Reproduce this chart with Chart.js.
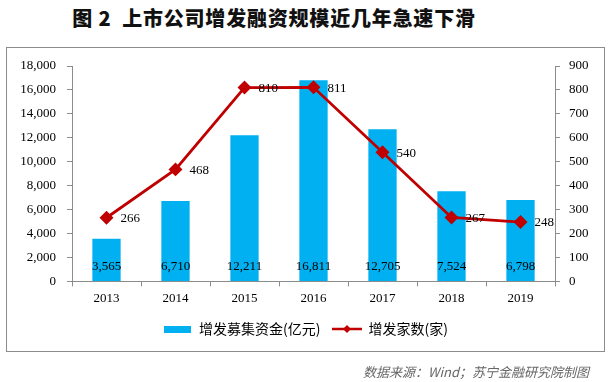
<!DOCTYPE html>
<html><head><meta charset="utf-8">
<script src="https://cdn.jsdelivr.net/npm/chart.js@4.4.1/dist/chart.umd.min.js"></script>
<style>
html,body{margin:0;padding:0;background:#fff;}
#wrap{position:relative;width:611px;height:382px;overflow:hidden;}
#title{position:absolute;left:0;width:548px;top:3px;text-align:center;font-family:"Noto Sans CJK SC";font-weight:900;font-size:20px;letter-spacing:0.8px;color:#111;white-space:nowrap;}
#box{position:absolute;left:6px;top:47px;width:597px;height:303px;border:1px solid #8c8c8c;}
#src{position:absolute;left:363px;top:362px;font-family:"Noto Sans CJK SC";font-style:italic;font-size:13px;color:#666;white-space:nowrap;}
canvas{position:absolute;left:0;top:0;}
</style></head>
<body><div id="wrap">
<div id="title">图 2&nbsp; 上市公司增发融资规模近几年急速下滑</div>
<div id="box"></div>
<canvas id="c" width="611" height="382"></canvas>
<div id="src">数据来源：Wind；苏宁金融研究院制图</div>
</div>
<script>
const categories = ['2013','2014','2015','2016','2017','2018','2019'];
const fundsRaised = [3565, 6710, 12211, 16811, 12705, 7524, 6798];
const companyCount = [266, 468, 810, 811, 540, 267, 248];
const leftTicks = [0,2000,4000,6000,8000,10000,12000,14000,16000,18000];
const rightTicks = [0,100,200,300,400,500,600,700,800,900];

const BLUE = '#00B0F0', RED = '#C00000', AXIS = '#8c8c8c';

function barIcon(){const c=document.createElement('canvas');c.width=27;c.height=7;const x=c.getContext('2d');x.fillStyle=BLUE;x.fillRect(0,0,27,7);return c;}
function lineIcon(){const c=document.createElement('canvas');c.width=30;c.height=10;const x=c.getContext('2d');x.strokeStyle=RED;x.lineWidth=2.5;x.beginPath();x.moveTo(0,5);x.lineTo(30,5);x.stroke();x.fillStyle=RED;x.beginPath();x.moveTo(15,1);x.lineTo(19,5);x.lineTo(15,9);x.lineTo(11,5);x.closePath();x.fill();return c;}

const labelPlugin = {
  id:'vals',
  afterDatasetsDraw(chart){
    const ctx=chart.ctx;
    ctx.save();
    ctx.font='13px "Liberation Serif"';
    ctx.fillStyle='#000';
    ctx.textBaseline='middle';
    const mb=chart.getDatasetMeta(0);
    ctx.textAlign='center';
    mb.data.forEach((el,i)=>{ctx.fillText(fundsRaised[i].toLocaleString('en-US'), el.x, el.base-14);});
    const ml=chart.getDatasetMeta(1);
    ctx.textAlign='left';
    ml.data.forEach((el,i)=>{ctx.fillText(String(companyCount[i]), el.x+14, el.y+1);});
    ctx.restore();
  }
};

new Chart(document.getElementById('c'),{
  data:{
    labels:categories,
    datasets:[
      {type:'bar',label:'增发募集资金(亿元)',data:fundsRaised,backgroundColor:BLUE,yAxisID:'y',order:1,barPercentage:0.41,categoryPercentage:1},
      {type:'line',label:'增发家数(家)',data:companyCount,borderColor:RED,backgroundColor:RED,borderWidth:2.8,yAxisID:'y1',order:0,pointStyle:'rectRot',pointRadius:5,pointHoverRadius:5,tension:0}
    ]
  },
  options:{
    responsive:false,animation:false,
    layout:{padding:{top:66,left:0,right:0,bottom:36}},
    plugins:{
      tooltip:{enabled:false},
      legend:{position:'bottom',labels:{usePointStyle:true,pointStyleWidth:29,padding:12,color:'#000',font:{family:'"Noto Sans CJK SC"',size:14},
        generateLabels(chart){
          return [
            {text:'增发募集资金(亿元)',pointStyle:barIcon(),datasetIndex:0,fillStyle:BLUE,strokeStyle:BLUE,lineWidth:0,fontColor:'#000'},
            {text:'增发家数(家)',pointStyle:lineIcon(),datasetIndex:1,fillStyle:RED,strokeStyle:RED,lineWidth:0,fontColor:'#000'}
          ];
        }}}
    },
    scales:{
      x:{offset:true,grid:{display:true,offset:true,drawOnChartArea:false,drawTicks:true,tickLength:5,color:AXIS},border:{color:AXIS},
        ticks:{color:'#000',font:{family:'"Liberation Serif"',size:13},padding:4}},
      y:{position:'left',min:0,max:18000,afterBuildTicks(s){s.ticks=leftTicks.map(v=>({value:v}));},
        afterFit(s){s.width=72;},
        grid:{drawOnChartArea:false,drawTicks:true,tickLength:5,color:AXIS},border:{color:AXIS},
        ticks:{color:'#000',font:{family:'"Liberation Serif"',size:13},padding:11,callback:v=>v.toLocaleString('en-US')}},
      y1:{position:'right',min:0,max:900,afterBuildTicks(s){s.ticks=rightTicks.map(v=>({value:v}));},
        afterFit(s){s.width=56;},
        grid:{drawOnChartArea:false,drawTicks:true,tickLength:5,color:AXIS},border:{color:AXIS},
        ticks:{color:'#000',font:{family:'"Liberation Serif"',size:13},padding:9}}
    }
  },
  plugins:[labelPlugin]
});
</script>
</body></html>
